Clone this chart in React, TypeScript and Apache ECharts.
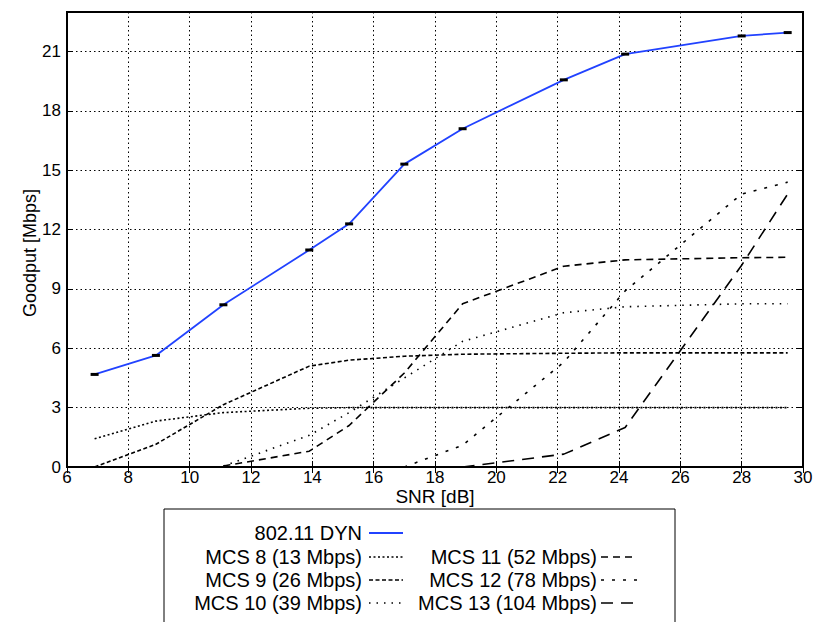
import React, { useEffect, useRef } from "react";
import * as echarts from "echarts";

// SNR sample points [dB]
const SNR = [6.9, 8.9, 11.1, 13.9, 15.2, 17.0, 18.9, 22.2, 24.2, 28.0, 29.5];

// Goodput [Mbps]
const DYN = [4.68, 5.64, 8.2, 10.97, 12.29, 15.31, 17.1, 19.57, 20.87, 21.79, 21.96];
const MCS8 = [1.43, 2.32, 2.75, 2.97, 3.0, 3.0, 3.0, 3.0, 3.0, 3.0, 3.0];
const MCS9 = [0.0, 1.15, 3.15, 5.1, 5.4, 5.6, 5.7, 5.75, 5.77, 5.77, 5.77];
const MCS10 = [null, null, 0.05, 1.6, 2.75, 4.5, 6.35, 7.8, 8.1, 8.25, 8.25];
const MCS11 = [null, null, 0.05, 0.8, 2.1, 4.75, 8.25, 10.15, 10.47, 10.58, 10.6];
const MCS12 = [null, null, null, null, null, 0.0, 1.1, 5.3, 8.9, 13.8, 14.4];
const MCS13 = [null, null, null, null, null, null, 0.0, 0.65, 2.0, 10.2, 13.8];

const NAMES = [
  "802.11 DYN",
  "MCS 8 (13 Mbps)",
  "MCS 9 (26 Mbps)",
  "MCS 10 (39 Mbps)",
  "MCS 11 (52 Mbps)",
  "MCS 12 (78 Mbps)",
  "MCS 13 (104 Mbps)",
];

const X_MIN = 6;
const X_MAX = 30;
const X_STEP = 2;
const Y_MIN = 0;
const Y_MAX = 23;
const Y_STEP = 3;

const FONT = '"Liberation Sans", Arial, Helvetica, sans-serif';
const BLUE = "#2142ff";

const DASHES: (number[] | null)[] = [
  null,
  [2, 2.5],
  [4, 2.5],
  [1.5, 6],
  [7, 5],
  [3, 8],
  [12, 8],
];

function pairs(vals: (number | null)[]) {
  const out: [number, number][] = [];
  vals.forEach((v, i) => {
    if (v !== null) out.push([SNR[i], v]);
  });
  return out;
}

export default function App() {
  const ref = useRef<HTMLDivElement>(null);

  useEffect(() => {
    if (!ref.current) return;
    const chart = echarts.init(ref.current, null, { renderer: "svg" });
    const seriesVals = [DYN, MCS8, MCS9, MCS10, MCS11, MCS12, MCS13];

    const series: any[] = seriesVals.map((vals, i) => {
      if (i === 0) {
        return {
          name: NAMES[i],
          type: "line",
          data: pairs(vals),
          showSymbol: true,
          symbol: "rect",
          symbolSize: [8, 3],
          itemStyle: { color: "#000" },
          lineStyle: { color: BLUE, width: 1.8 },
          z: 5,
        };
      }
      return {
        name: NAMES[i],
        type: "line",
        data: pairs(vals),
        showSymbol: false,
        symbol: "none",
        lineStyle: { color: "#000", width: 1.6, type: DASHES[i] as any },
        z: 3,
      };
    });

    const legendRows = [533, 557, 580, 603];
    const graphic: any[] = [
      {
        type: "rect",
        shape: { x: 164, y: 509, width: 511, height: 140 },
        style: { fill: "#fff", stroke: "#000", lineWidth: 1 },
        z: 1,
      },
      {
        type: "text",
        x: 30,
        y: 253,
        rotation: Math.PI / 2,
        style: {
          text: "Goodput [Mbps]",
          font: `18px ${FONT}`,
          fill: "#000",
          textAlign: "center",
          textVerticalAlign: "middle",
        },
      },
      {
        type: "text",
        x: 435,
        y: 496,
        style: {
          text: "SNR [dB]",
          font: `19px ${FONT}`,
          fill: "#000",
          textAlign: "center",
          textVerticalAlign: "middle",
        },
      },
    ];

    const layout = [
      { idx: 0, col: 0, row: 0 },
      { idx: 1, col: 0, row: 1 },
      { idx: 2, col: 0, row: 2 },
      { idx: 3, col: 0, row: 3 },
      { idx: 4, col: 1, row: 1 },
      { idx: 5, col: 1, row: 2 },
      { idx: 6, col: 1, row: 3 },
    ];
    const cols = [
      { textRight: 362, x1: 369, x2: 403 },
      { textRight: 597, x1: 601, x2: 637 },
    ];
    layout.forEach(({ idx, col, row }) => {
      const c = cols[col];
      const y = legendRows[row];
      graphic.push({
        type: "text",
        x: c.textRight,
        y,
        z: 2,
        style: {
          text: NAMES[idx],
          font: `20px ${FONT}`,
          fill: "#000",
          textAlign: "right",
          textVerticalAlign: "middle",
        },
      });
      graphic.push({
        type: "line",
        z: 2,
        shape: { x1: c.x1, y1: y, x2: c.x2, y2: y },
        style: {
          stroke: idx === 0 ? BLUE : "#000",
          lineWidth: idx === 0 ? 1.8 : 1.6,
          lineDash: DASHES[idx] || undefined,
        },
      });
    });

    const splitLine = {
      show: true,
      lineStyle: { color: "#000", width: 1, type: [1.5, 3] as any },
    };

    chart.setOption({
      animation: false,
      backgroundColor: "#fff",
      grid: {
        left: 67,
        right: 13,
        top: 12,
        bottom: 155,
        show: true,
        borderColor: "#000",
        borderWidth: 2,
        backgroundColor: "transparent",
      },
      xAxis: [
        {
          type: "value",
          min: X_MIN,
          max: X_MAX,
          interval: X_STEP,
          axisLine: { show: true, onZero: false, lineStyle: { color: "#000", width: 2 } },
          axisTick: { show: true, inside: true, length: 6, lineStyle: { color: "#000", width: 1 } },
          axisLabel: { color: "#000", fontSize: 17, fontFamily: FONT, margin: 2 },
          splitLine,
        },
        {
          type: "value",
          position: "top",
          min: X_MIN,
          max: X_MAX,
          interval: X_STEP,
          axisLine: { show: false },
          axisTick: { show: true, inside: true, length: 6, lineStyle: { color: "#000", width: 1 } },
          axisLabel: { show: false },
          splitLine: { show: false },
        },
      ],
      yAxis: [
        {
          type: "value",
          min: Y_MIN,
          max: Y_MAX,
          interval: Y_STEP,
          axisLine: { show: true, onZero: false, lineStyle: { color: "#000", width: 2 } },
          axisTick: { show: true, inside: true, length: 6, lineStyle: { color: "#000", width: 1 } },
          axisLabel: { color: "#000", fontSize: 17, fontFamily: FONT, margin: 6, showMaxLabel: false },
          splitLine,
        },
        {
          type: "value",
          position: "right",
          min: Y_MIN,
          max: Y_MAX,
          interval: Y_STEP,
          axisLine: { show: false },
          axisTick: { show: true, inside: true, length: 6, lineStyle: { color: "#000", width: 1 } },
          axisLabel: { show: false },
          splitLine: { show: false },
        },
      ],
      series,
      graphic,
    });

    return () => chart.dispose();
  }, []);

  return (
    <div
      ref={ref}
      style={{ position: "fixed", left: 0, top: 0, width: 816, height: 622, background: "#fff" }}
    />
  );
}
